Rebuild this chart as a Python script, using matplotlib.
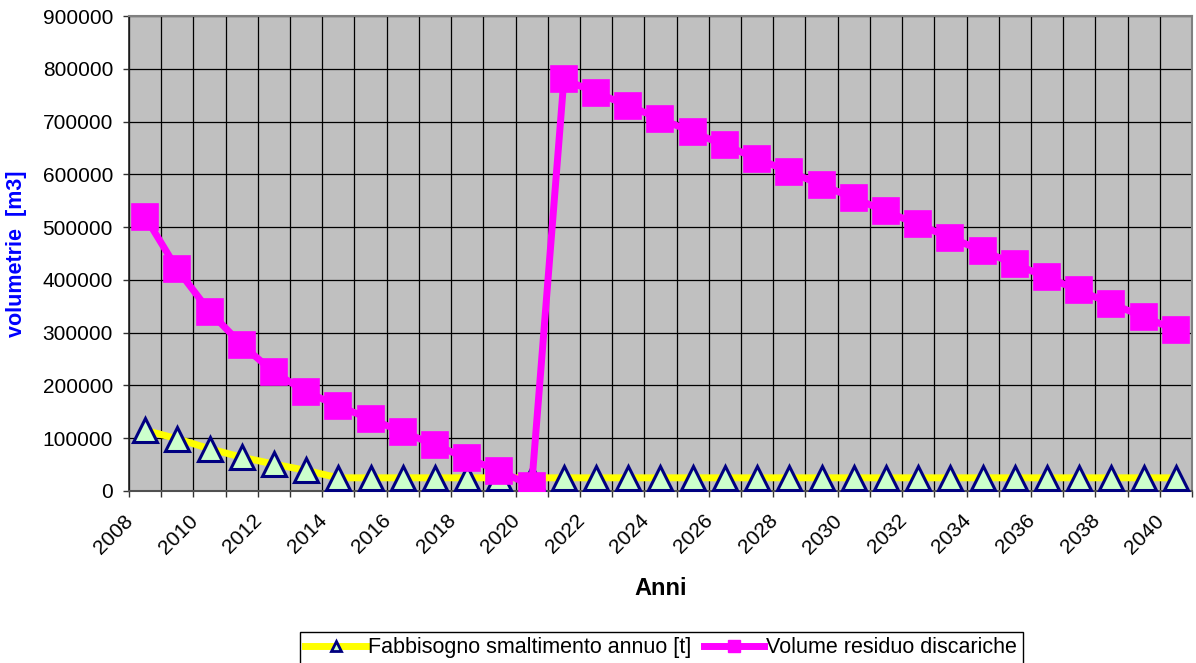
import matplotlib
matplotlib.use("Agg")
import matplotlib.pyplot as plt
import matplotlib.ticker as mticker
from matplotlib.lines import Line2D
from matplotlib.transforms import ScaledTranslation

years = list(range(2008, 2041))
fabbisogno = [115000, 99000, 80000, 64000, 51000, 39000, 25000, 25000, 25000, 25000,
              25000, 25000, 25000, 25000, 25000, 25000, 25000, 25000, 25000, 25000,
              25000, 25000, 25000, 25000, 25000, 25000, 25000, 25000, 25000, 25000,
              25000, 25000, 25000]
volume = [520000, 420000, 340000, 277000, 225000, 188000, 161000, 136000, 112000, 87000,
          62000, 38000, 10000, 780000, 755000, 730000, 705000, 680000, 655000, 630000,
          605000, 580000, 555000, 530000, 505000, 480000, 455000, 430000, 405000, 380000,
          355000, 330000, 305000]
label_years = list(range(2008, 2041, 2))
y_ticks = list(range(0, 900001, 100000))

name_fabb = "Fabbisogno smaltimento annuo [t]"
name_vol = "Volume residuo discariche"

plt.rcParams['font.family'] = ['Liberation Sans', 'DejaVu Sans']

W, H = 1196, 663
fig = plt.figure(figsize=(W / 100, H / 100), dpi=100)
ax = fig.add_axes([129 / W, 1 - 491 / H, (1192 - 129) / W, (491 - 16) / H])
ax.set_facecolor('#C0C0C0')

ax.plot(years, fabbisogno, color='#FFFF00', lw=5, marker='^', ms=17,
        mfc='#CCFFCC', mec='#000080', mew=2.2, zorder=3, solid_joinstyle='round')
ax.plot(years, volume, color='#FF00FF', lw=5, marker='s', ms=18.5,
        mfc='#FF00FF', mec='#FF00FF', mew=1.2, zorder=4, solid_joinstyle='round')

ax.set_xlim(years[0] - 0.5, years[-1] + 0.5)
ax.set_ylim(0, 900000)

ax.set_xticks(label_years)
ax.set_xticklabels([str(y) for y in label_years], rotation=45, ha='right', va='top')
ax.set_xticks([y + 0.5 for y in [years[0] - 1] + years], minor=True)
ax.tick_params(axis='x', which='major', length=0, pad=14.4, labelsize=15)
ax.tick_params(axis='x', which='minor', length=4.5, width=1, color='#333333')
offset = ScaledTranslation(-8 / 100, 0, fig.dpi_scale_trans)
for lab in ax.get_xticklabels():
    lab.set_transform(lab.get_transform() + offset)

ax.set_yticks(y_ticks)
ax.yaxis.set_major_formatter(mticker.FormatStrFormatter('%d'))
ax.tick_params(axis='y', which='major', length=4.5, width=1, pad=7, labelsize=15, color='#333333')

ax.grid(True, which='minor', axis='x', color='black', lw=0.9)
ax.grid(True, which='major', axis='y', color='black', lw=0.9)
ax.set_axisbelow(True)

ax.spines['left'].set_color('#202020')
ax.spines['left'].set_linewidth(1.2)
ax.spines['bottom'].set_color('#505050')
ax.spines['bottom'].set_linewidth(1.5)
ax.spines['top'].set_color('#808080')
ax.spines['top'].set_linewidth(1.5)
ax.spines['right'].set_color('#808080')
ax.spines['right'].set_linewidth(1.5)

ax.set_ylabel('volumetrie  [m3]', color='#0000FF', fontsize=15.5, fontweight='bold')
ax.yaxis.set_label_coords((27 - 129) / 1063, 0.5)
ax.set_xlabel('Anni', fontsize=17, fontweight='bold')
ax.xaxis.set_label_coords(0.5, -(577 - 491) / 475)

handles = [
    Line2D([], [], color='#FFFF00', lw=5, marker='^', ms=7.5, mfc='#CCFFCC',
           mec='#000080', mew=2),
    Line2D([], [], color='#FF00FF', lw=5, marker='s', ms=9, mfc='#FF00FF', mec='#FF00FF'),
]
leg = fig.legend(handles, [name_fabb, name_vol], loc='upper left',
                 bbox_to_anchor=(300 / W, 1 - 632 / H), ncol=2, fontsize=15.5,
                 handlelength=2.8, handletextpad=0.1, columnspacing=0.6,
                 borderpad=0.25, borderaxespad=0, fancybox=False, framealpha=1,
                 edgecolor='black')
leg.get_frame().set_linewidth(1)

fig.savefig('out.png', dpi=100, facecolor='white')
